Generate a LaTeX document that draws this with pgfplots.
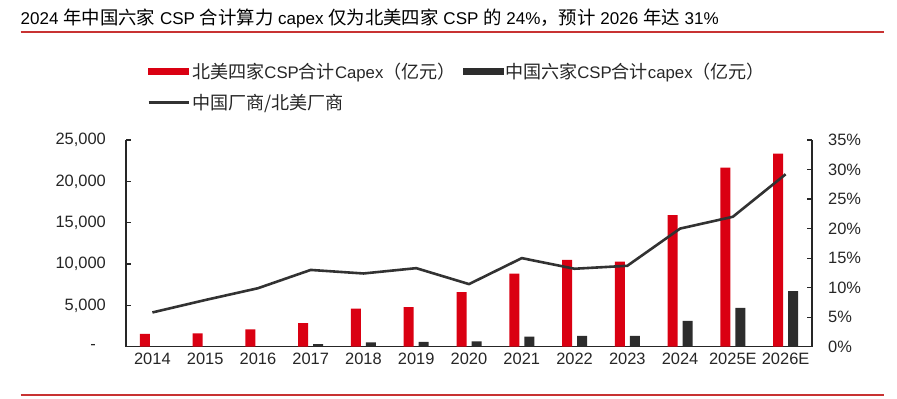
\documentclass[border=0pt]{standalone}
\usepackage{pgfplots}
\pgfplotsset{compat=1.18}
\usepackage{fontspec}
\setmainfont{Liberation Sans}
\newfontfamily\cjk[Scale=1.08]{Noto Sans CJK SC}
\definecolor{cred}{RGB}{218,0,18}
\definecolor{cdark}{RGB}{45,45,45}
\definecolor{cline}{RGB}{50,50,50}
\definecolor{crule}{RGB}{200,50,50}
\begin{document}
\begin{tikzpicture}
\useasboundingbox (0bp,0bp) rectangle (897bp,-399bp);
\node[anchor=west, inner sep=0pt, font=\fontsize{17.1}{20}\selectfont] at (20.5bp,-18bp) {2024 {\cjk 年中国六家} CSP {\cjk 合计算力} capex {\cjk 仅为北美四家} CSP {\cjk 的} 24\%{\cjk ，预计} 2026 {\cjk 年达} 31\%};
\draw[crule, line width=1.3bp] (20.5bp,-32bp) -- (884bp,-32bp);
\draw[crule, line width=1.3bp] (20.5bp,-395bp) -- (884bp,-395bp);
\begin{axis}[
  at={(126bp,-346.7bp)}, anchor=south west,
  width=686bp, height=206.7bp, scale only axis,
  xmin=-0.5, xmax=12.5, ymin=0, ymax=25000,
  scaled y ticks=false,
  axis x line*=bottom, axis y line*=left,
  axis line style={-, line width=1.2bp, black!85},
  xtick={0,...,12},
  xticklabels={2014,2015,2016,2017,2018,2019,2020,2021,2022,2023,2024,2025E,2026E},
  major x tick style={draw=none},
  ytick={0,5000,10000,15000,20000,25000},
  yticklabels={{-\hspace*{10bp}},{5,000},{10,000},{15,000},{20,000},{25,000}},
  tick align=inside, major tick length=5bp,
  major y tick style={line width=1.2bp, black!85},
  tick label style={font=\fontsize{16.5}{19}\selectfont, text=black!85},
  yticklabel style={inner sep=0pt, anchor=east, xshift=-20bp},
  xticklabel style={inner sep=0pt, anchor=north, yshift=-6bp},
  clip=false,
]
\addplot[ybar, bar width=10bp, bar shift=-7.5bp, fill=cred, draw=none] coordinates {
(0,1540) (1,1620) (2,2110) (3,2840) (4,4610) (5,4780) (6,6600) (7,8830) (8,10490) (9,10280) (10,15900) (11,21660) (12,23360)};
\addplot[ybar, bar width=10bp, bar shift=7.5bp, fill=cdark, draw=none] coordinates {
(0,20) (1,30) (2,60) (3,300) (4,530) (5,570) (6,650) (7,1210) (8,1300) (9,1300) (10,3120) (11,4700) (12,6720)};
\end{axis}
\begin{axis}[
  at={(126bp,-346.7bp)}, anchor=south west,
  width=686bp, height=206.7bp, scale only axis,
  xmin=-0.5, xmax=12.5, ymin=0, ymax=35,
  axis x line=none, axis y line*=right,
  axis line style={-, line width=1.2bp, black!85},
  ytick={0,5,...,35},
  yticklabels={0\%,5\%,10\%,15\%,20\%,25\%,30\%,35\%},
  tick align=inside, major tick length=5bp,
  major y tick style={line width=1.2bp, black!85},
  tick label style={font=\fontsize{16.5}{19}\selectfont, text=black!85},
  yticklabel style={inner sep=0pt, anchor=west, xshift=16bp},
  legend style={at={(axis description cs:0.0262,1.395)}, anchor=north west, draw=none, fill=none,
    font=\fontsize{16.8}{19}\selectfont, text=black!85,
    /tikz/every even column/.append style={column sep=5bp},
    row sep=11bp},
  legend columns=2,
  legend cell align=left,
  clip=false,
]
\addlegendimage{legend image code/.code={\fill[cred] (0bp,-3bp) rectangle (40bp,3bp);}}
\addlegendentry{{\cjk 北美四家}CSP{\cjk 合计}Capex{\cjk （亿元）}}
\addlegendimage{legend image code/.code={\fill[cdark] (0bp,-3bp) rectangle (40bp,3bp);}}
\addlegendentry{{\cjk 中国六家}CSP{\cjk 合计}capex{\cjk （亿元）}}
\addlegendimage{legend image code/.code={\draw[cline, line width=3bp] (0bp,0bp) -- (40bp,0bp);}}
\addlegendentry{{\cjk 中国厂商/北美厂商}}
\addplot[cline, line width=2.6bp, forget plot] coordinates {
(0,5.8) (1,7.9) (2,9.9) (3,13.0) (4,12.4) (5,13.3) (6,10.6) (7,15.0) (8,13.2) (9,13.7) (10,20.0) (11,22.0) (12,29.2)};
\end{axis}
\end{tikzpicture}
\end{document}
